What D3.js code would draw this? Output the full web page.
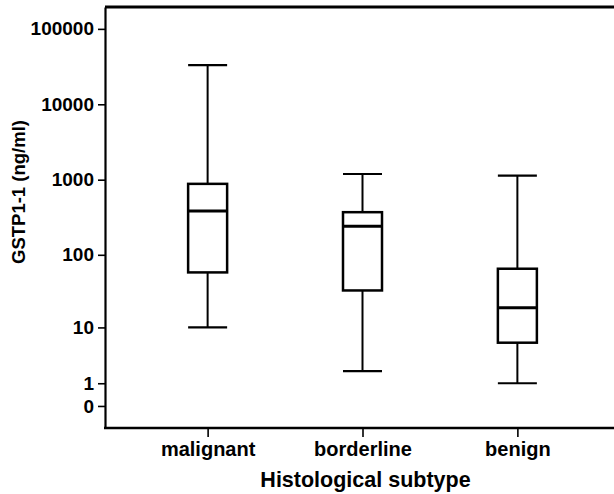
<!DOCTYPE html>
<html>
<head>
<meta charset="utf-8">
<script src="https://cdn.jsdelivr.net/npm/d3@7"></script>
<style>
    body { margin: 0; background: #fff; overflow: hidden; }
    svg { display: block; font-family: "Liberation Sans", Arial, sans-serif; font-weight: bold; }
</style>
</head>
<body>
<div id="chart"></div>
<script>
// Data (ng/ml)
var categories = ["malignant", "borderline", "benign"];
var whiskerLow = [10, 1.9, 1];
var q1 = [58, 33, 5.9];
var median = [385, 240, 19];
var q3 = [880, 370, 65];
var whiskerHigh = [33000, 1190, 1130];
var yTicks = [0, 1, 10, 100, 1000, 10000, 100000];

var margin = {top: 7, right: 0, bottom: 66, left: 105},
    width = 614 - margin.left - margin.right,
    height = 494 - margin.top - margin.bottom,
    boxWidth = 39;

var data = categories.map(function(c, i) {
    return {cat: c, lo: whiskerLow[i], q1: q1[i], med: median[i], q3: q3[i], hi: whiskerHigh[i]};
});

var xScale = d3.scalePoint()
    .domain(categories)
    .range([0, width + 6])
    .padding(0.6626);

// log(x+1) style axis so zero can be shown
var yScale = d3.scaleSymlog()
    .constant(1)
    .domain([-0.96, 195000])
    .range([height, 0]);

var svg = d3.select("#chart").append("svg")
    .attr("width", 614)
    .attr("height", 494);

var g = svg.append("g")
    .attr("transform", "translate(" + margin.left + "," + margin.top + ")");

// top frame line
g.append("line")
    .attr("x1", 0).attr("x2", width)
    .attr("y1", 0).attr("y2", 0)
    .attr("stroke", "#000")
    .attr("stroke-width", 3);

// y axis
var yAxis = g.append("g")
    .attr("class", "y axis")
    .call(d3.axisLeft(yScale).tickValues(yTicks).tickFormat(d3.format("d")).tickSize(7).tickPadding(4).tickSizeOuter(0));
yAxis.select(".domain").attr("stroke-width", 2.2);
yAxis.selectAll(".tick line").attr("stroke-width", 1.6);
yAxis.selectAll(".tick text")
    .attr("fill", "#000")
    .style("font-size", "19px")
    .style("font-family", "Liberation Sans, Arial, sans-serif")
    .style("font-weight", "bold");

// x axis
var xAxis = g.append("g")
    .attr("class", "x axis")
    .attr("transform", "translate(0," + height + ")")
    .call(d3.axisBottom(xScale).tickSize(9).tickPadding(5).tickSizeOuter(0));
xAxis.select(".domain").remove();
xAxis.append("line")
    .attr("x1", -1).attr("x2", width)
    .attr("stroke", "#000")
    .attr("stroke-width", 2.5);
xAxis.selectAll(".tick line").attr("stroke-width", 1.6);
xAxis.selectAll(".tick text")
    .attr("fill", "#000")
    .style("font-size", "20px")
    .style("font-family", "Liberation Sans, Arial, sans-serif")
    .style("font-weight", "bold");

// axis titles
g.append("text")
    .attr("x", xScale("borderline") + 3)
    .attr("y", height + 59)
    .attr("text-anchor", "middle")
    .style("font-size", "21.5px")
    .text("Histological subtype");

g.append("text")
    .attr("transform", "rotate(-90)")
    .attr("x", -(192 - margin.top))
    .attr("y", 25 - margin.left)
    .attr("text-anchor", "middle")
    .style("font-size", "18.5px")
    .text("GSTP1-1 (ng/ml)");

// boxes
var boxes = g.selectAll(".box")
    .data(data)
    .enter().append("g")
    .attr("class", "box")
    .attr("transform", function(d) { return "translate(" + xScale(d.cat) + ",0)"; });

boxes.append("line")
    .attr("x1", 0).attr("x2", 0)
    .attr("y1", function(d) { return yScale(d.hi); })
    .attr("y2", function(d) { return yScale(d.q3); })
    .attr("stroke", "#000").attr("stroke-width", 2);

boxes.append("line")
    .attr("x1", 0).attr("x2", 0)
    .attr("y1", function(d) { return yScale(d.q1); })
    .attr("y2", function(d) { return yScale(d.lo); })
    .attr("stroke", "#000").attr("stroke-width", 2);

boxes.selectAll(".cap")
    .data(function(d) { return [d.lo, d.hi]; })
    .enter().append("line")
    .attr("class", "cap")
    .attr("x1", -boxWidth / 2).attr("x2", boxWidth / 2)
    .attr("y1", function(v) { return yScale(v); })
    .attr("y2", function(v) { return yScale(v); })
    .attr("stroke", "#000").attr("stroke-width", 2.2);

boxes.append("rect")
    .attr("x", -boxWidth / 2)
    .attr("width", boxWidth)
    .attr("y", function(d) { return yScale(d.q3); })
    .attr("height", function(d) { return yScale(d.q1) - yScale(d.q3); })
    .attr("fill", "#fff")
    .attr("stroke", "#000")
    .attr("stroke-width", 2.5);

boxes.append("line")
    .attr("x1", -boxWidth / 2).attr("x2", boxWidth / 2)
    .attr("y1", function(d) { return yScale(d.med); })
    .attr("y2", function(d) { return yScale(d.med); })
    .attr("stroke", "#000").attr("stroke-width", 3);
</script>
</body>
</html>
